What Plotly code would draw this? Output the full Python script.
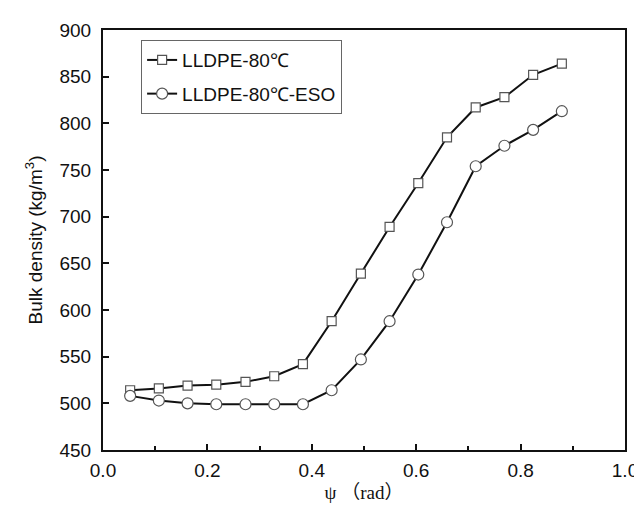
import plotly.graph_objects as go

psi = [0.052, 0.107, 0.162, 0.217, 0.273, 0.328, 0.383, 0.438,
       0.494, 0.549, 0.604, 0.659, 0.714, 0.769, 0.824, 0.879]
lldpe = [514, 516, 519, 520, 523, 529, 542, 588,
         639, 689, 736, 785, 817, 828, 852, 864]
lldpe_eso = [508, 503, 500, 499, 499, 499, 499, 514,
             547, 588, 638, 694, 754, 776, 793, 813]
names = ["LLDPE-80℃", "LLDPE-80℃-ESO"]
x_ticks = [0.0, 0.2, 0.4, 0.6, 0.8, 1.0]
x_ticktext = ["0.0", "0.2", "0.4", "0.6", "0.8", "1.0"]
x_minor = [0.1, 0.3, 0.5, 0.7, 0.9]
y_ticks = [450, 500, 550, 600, 650, 700, 750, 800, 850, 900]

fig = go.Figure()
fig.add_trace(go.Scatter(
    x=psi, y=lldpe, name=names[0], mode="lines+markers", legendgroup="a",
    line=dict(color="#111111", width=2),
    marker=dict(symbol="square", size=9, color="white",
                line=dict(color="#555555", width=1.2))))
fig.add_trace(go.Scatter(
    x=psi, y=lldpe_eso, name=names[1], mode="lines+markers", legendgroup="b",
    line=dict(color="#111111", width=2),
    marker=dict(symbol="circle", size=11, color="white",
                line=dict(color="#555555", width=1.2))))

fig.update_layout(
    width=642, height=505,
    margin=dict(l=95, r=25, t=18, b=63),
    paper_bgcolor="white", plot_bgcolor="white",
    font=dict(family="Liberation Sans, Arial, sans-serif", size=18, color="#111111"),
    showlegend=True,
    legend=dict(x=0.073, y=0.976, xanchor="left", yanchor="top",
                bgcolor="white", bordercolor="#666666", borderwidth=1,
                font=dict(size=19), tracegroupgap=6),
)
fig.update_xaxes(
    range=[0, 1.0], tickvals=x_ticks, ticktext=x_ticktext,
    ticks="inside", ticklen=6, tickwidth=1.5, tickcolor="#111111",
    minor=dict(tickvals=x_minor, ticks="inside", ticklen=4,
               tickwidth=1.5, tickcolor="#111111"),
    showline=True, linecolor="#111111", linewidth=2, mirror=True,
    showgrid=False, zeroline=False,
    tickfont=dict(size=19), ticklabelstandoff=2,
    title=dict(text="ψ （rad）", font=dict(family="Liberation Serif, Noto Sans CJK SC, serif", size=19),
               standoff=6),
)
fig.update_yaxes(
    range=[450, 900], tickvals=y_ticks,
    ticks="inside", ticklen=6, tickwidth=1.5, tickcolor="#111111",
    showline=True, linecolor="#111111", linewidth=2, mirror=True,
    showgrid=False, zeroline=False,
    tickfont=dict(size=19), ticklabelstandoff=6,
    title=dict(text="Bulk density (kg/m<sup>3</sup>)", font=dict(size=19), standoff=12),
)

fig.write_html("out.html")
